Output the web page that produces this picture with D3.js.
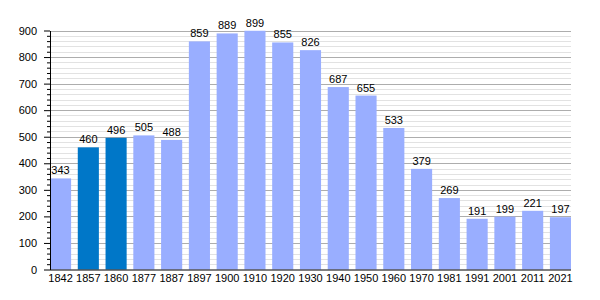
<!DOCTYPE html>
<html>
<head>
<meta charset="utf-8">
<script src="https://cdn.jsdelivr.net/npm/d3@7"></script>
<style>
  body { margin: 0; background: #fff; }
  svg { display: block; font-family: "Liberation Sans", Arial, sans-serif; }
</style>
</head>
<body>
<div id="chart"></div>
<script>
// census years and population
const years = ["1842", "1857", "1860", "1877", "1887", "1897", "1900", "1910", "1920", "1930",
               "1940", "1950", "1960", "1970", "1981", "1991", "2001", "2011", "2021"];
const population = [343, 460, 496, 505, 488, 859, 889, 899, 855, 826,
                    687, 655, 533, 379, 269, 191, 199, 221, 197];
// years drawn in the darker colour
const highlighted = ["1857", "1860"];
const yTicks = [0, 100, 200, 300, 400, 500, 600, 700, 800, 900];

const width = 600, height = 300;
const plot = {left: 50, right: 571, top: 30.5, bottom: 269.5};

const svg = d3.select("#chart").append("svg")
    .attr("width", width).attr("height", height);

let x = d3.scaleBand()
    .domain(years)
    .range([plot.left, plot.right])
    .paddingInner(0.24)
    .paddingOuter(0);

let y = d3.scaleLinear()
    .domain([0, 900])
    .range([plot.bottom, plot.top]);

// minor grid every 20
const minor = d3.range(0, 901, 20).filter(v => v % 100 !== 0);
svg.append("g").selectAll("line")
    .data(minor)
  .enter().append("line")
    .attr("x1", plot.left).attr("x2", plot.right)
    .attr("y1", d => Math.round(y(d)) + 0.5).attr("y2", d => Math.round(y(d)) + 0.5)
    .attr("stroke", "#e2e2e2");

svg.append("g").selectAll("line")
    .data(yTicks.slice(1))
  .enter().append("line")
    .attr("x1", plot.left).attr("x2", plot.right)
    .attr("y1", d => Math.round(y(d)) + 0.5).attr("y2", d => Math.round(y(d)) + 0.5)
    .attr("stroke", "#adadad");

// bars
svg.append("g").selectAll("rect")
    .data(years)
  .enter().append("rect")
    .attr("x", d => x(d))
    .attr("width", x.bandwidth())
    .attr("y", (d, i) => y(population[i]))
    .attr("height", (d, i) => y(0) - y(population[i]))
    .attr("fill", d => highlighted.includes(d) ? "#0077c8" : "#99aeff");

// value labels
svg.append("g").selectAll("text")
    .data(years)
  .enter().append("text")
    .attr("x", d => x(d) + x.bandwidth() / 2)
    .attr("y", (d, i) => y(population[i]) - 4)
    .attr("text-anchor", "middle")
    .attr("font-size", 11)
    .attr("fill", "#000")
    .text((d, i) => population[i]);

// y axis with minor ticks
const yMinor = svg.append("g")
    .attr("transform", "translate(" + plot.left + ",0)")
    .call(d3.axisLeft(y).tickValues(minor).tickSize(3).tickFormat(""));
yMinor.select(".domain").remove();

const yAxis = svg.append("g")
    .attr("transform", "translate(" + plot.left + ",0)")
    .call(d3.axisLeft(y).tickValues(yTicks).tickSize(6).tickSizeOuter(0).tickPadding(7));
yAxis.selectAll("text").attr("font-size", 11).attr("font-family", "Liberation Sans, Arial, sans-serif");

// x axis
const xAxis = svg.append("g")
    .attr("transform", "translate(0," + plot.bottom + ")")
    .call(d3.axisBottom(x).tickSize(0).tickSizeOuter(0).tickPadding(5));
xAxis.select(".domain").attr("d", "M" + plot.left + ",0.5H" + plot.right);
xAxis.selectAll("text").attr("font-size", 11).attr("font-family", "Liberation Sans, Arial, sans-serif");
</script>
</body>
</html>
